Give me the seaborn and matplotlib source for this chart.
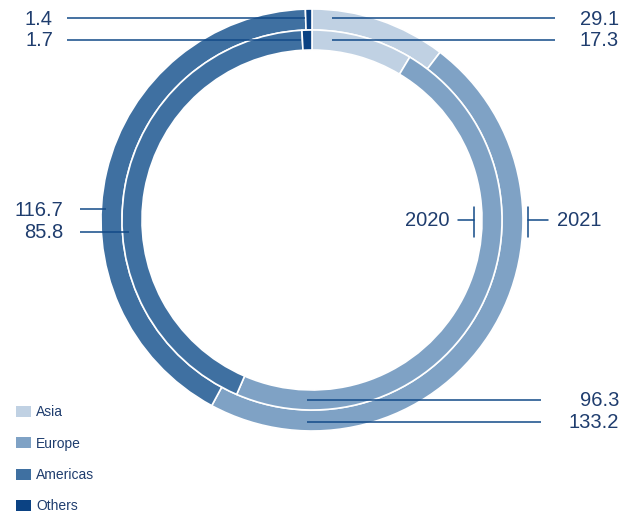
import matplotlib
matplotlib.use("Agg")
import matplotlib.pyplot as plt
import seaborn as sns
from matplotlib.patches import Patch

# Sales by region, two years
regions = ["Asia", "Europe", "Americas", "Others"]
sales_2021 = [29.1, 133.2, 116.7, 1.4]
sales_2020 = [17.3, 96.3, 85.8, 1.7]
years = ["2020", "2021"]

sns.set_theme(style="white")
plt.rcParams["font.family"] = ["Liberation Sans", "DejaVu Sans"]

palette = sns.color_palette(["#c0d1e3", "#7fa2c5", "#3f70a1", "#0b4283"])
text_c = "#1f3d6e"
line_c = "#124a88"

W, H = 622, 513
fig = plt.figure(figsize=(W / 100, H / 100), dpi=100)
ax = fig.add_axes([0, 0, 1, 1])

cx, cy = 312, 220
wp = dict(edgecolor="white", linewidth=1.2)
# outer ring: 2021, inner ring: 2020 (y axis inverted -> counterclock in data = clockwise on screen)
ax.pie(sales_2021, colors=palette, radius=211, center=(cx, cy), startangle=-90,
       counterclock=True, wedgeprops=dict(width=21, **wp))
ax.pie(sales_2020, colors=palette, radius=190, center=(cx, cy), startangle=-90,
       counterclock=True, wedgeprops=dict(width=20, **wp))

ax.set_xlim(0, W)
ax.set_ylim(H, 0)
ax.set_aspect("auto")
ax.axis("off")

fs = 14.5
lw = 1.1

def leader(x0, x1, y):
    ax.plot([x0, x1], [y, y], color=line_c, lw=lw, solid_capstyle="butt")

def num(x, y, v, ha):
    ax.text(x, y, f"{v:.1f}", ha=ha, va="center", fontsize=fs, color=text_c)

# Others (top, left side)
leader(67, 305, 18); num(53, 19.5, sales_2021[3], "right")
leader(67, 301, 40); num(53, 41, sales_2020[3], "right")
# Asia (top, right side)
leader(332, 555, 18); num(619, 19.5, sales_2021[0], "right")
leader(332, 555, 40); num(619, 41, sales_2020[0], "right")
# Americas (left)
leader(80, 106, 209); num(63, 210, sales_2021[2], "right")
leader(80, 129, 232); num(63, 232, sales_2020[2], "right")
# Europe (bottom)
leader(307, 541, 400); num(619, 400, sales_2020[1], "right")
leader(307, 541, 422); num(619, 422, sales_2021[1], "right")

# year markers
ax.plot([474, 474], [207, 237], color=line_c, lw=lw)
ax.plot([458, 474], [220, 220], color=line_c, lw=lw)
ax.text(449, 221, years[0], ha="right", va="center", fontsize=fs, color=text_c)
ax.plot([528, 528], [207, 237], color=line_c, lw=lw)
ax.plot([528, 548], [220, 220], color=line_c, lw=lw)
ax.text(557, 221, years[1], ha="left", va="center", fontsize=fs, color=text_c)

handles = [Patch(facecolor=c, edgecolor="none") for c in palette]
leg = ax.legend(handles, regions, loc="upper left", bbox_to_anchor=(12 / W, 1 - 401 / H),
                bbox_transform=fig.transFigure, frameon=False, fontsize=10,
                handlelength=1.05, handleheight=0.85, handletextpad=0.4,
                labelspacing=1.25, borderaxespad=0, borderpad=0.3)
for t in leg.get_texts():
    t.set_color(text_c)

fig.savefig("out.png", dpi=100, facecolor="white")
